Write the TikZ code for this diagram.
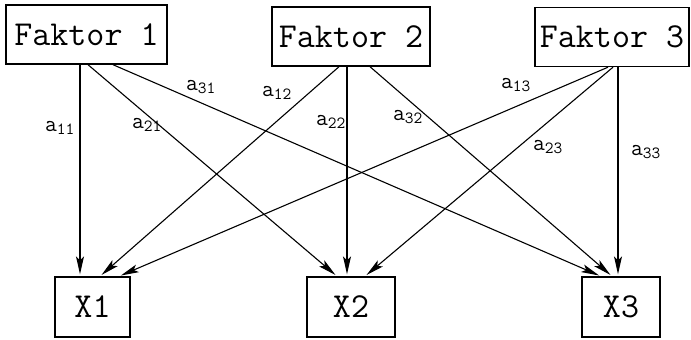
\documentclass[tikz,border=0pt]{standalone}
\usepackage{fontspec}
\setmonofont{Latin Modern Mono}
\usetikzlibrary{arrows.meta}

\tikzset{
  faktor/.style={draw, line width=1.4pt, minimum height=59pt, inner sep=0pt, font=\ttfamily\fontsize{35}{37}\selectfont},
  var/.style={draw, line width=1.4pt, minimum height=60pt, inner sep=0pt, font=\ttfamily\fontsize{35}{37}\selectfont},
  arr/.style={-{Stealth[length=18pt,width=8pt,inset=4pt]}, line width=1.1pt, shorten >=2pt},
  ladung/.style={font=\ttfamily\fontsize{23}{25}\selectfont, inner sep=0pt}
}
\newcommand{\ld}[1]{a\textsubscript{\fontsize{17}{18}\selectfont #1}}

\begin{document}
\begin{tikzpicture}[x=1pt, y=-1pt]
\useasboundingbox (0,0) rectangle (691,340);

% Faktoren oben
\node[faktor, minimum width=161pt] (f1) at (86.5,34.5) {Faktor 1};
\node[faktor, minimum width=158pt] (f2) at (351,36.5) {Faktor 2};
\node[faktor, minimum width=154pt] (f3) at (612,37) {Faktor 3};

% Variablen unten
\node[var, minimum width=75pt] (x1) at (92.5,307) {X1};
\node[var, minimum width=88pt] (x2) at (351,307) {X2};
\node[var, minimum width=78pt] (x3) at (621,307) {X3};

% Ladungen
\draw[arr] ([xshift=-6.5]f1.south) -- ([xshift=-12.5]x1.north);
\draw[arr] ([xshift=1.5]f1.south) -- ([xshift=-14]x2.north);
\draw[arr] ([xshift=26.5]f1.south) -- ([xshift=-20]x3.north);
\draw[arr] ([xshift=-12]f2.south) -- ([xshift=7.5]x1.north);
\draw[arr] ([xshift=-4]f2.south) -- ([xshift=-4]x2.north);
\draw[arr] ([xshift=19]f2.south) -- ([xshift=-9]x3.north);
\draw[arr] ([xshift=-4]f3.south) -- ([xshift=26.5]x1.north);
\draw[arr] ([xshift=1]f3.south) -- ([xshift=14]x2.north);
\draw[arr] ([xshift=6]f3.south) -- ([xshift=-3]x3.north);

\node[ladung] (l11) at (60,128) {\ld{11}};
\node[ladung] (l21) at (147,125) {\ld{21}};
\node[ladung] (l31) at (201,87) {\ld{31}};
\node[ladung] (l12) at (277,93) {\ld{12}};
\node[ladung] (l22) at (331,122) {\ld{22}};
\node[ladung] (l32) at (408,117) {\ld{32}};
\node[ladung] (l13) at (516,85) {\ld{13}};
\node[ladung] (l23) at (548,147) {\ld{23}};
\node[ladung] (l33) at (646,152) {\ld{33}};
\end{tikzpicture}
\end{document}
